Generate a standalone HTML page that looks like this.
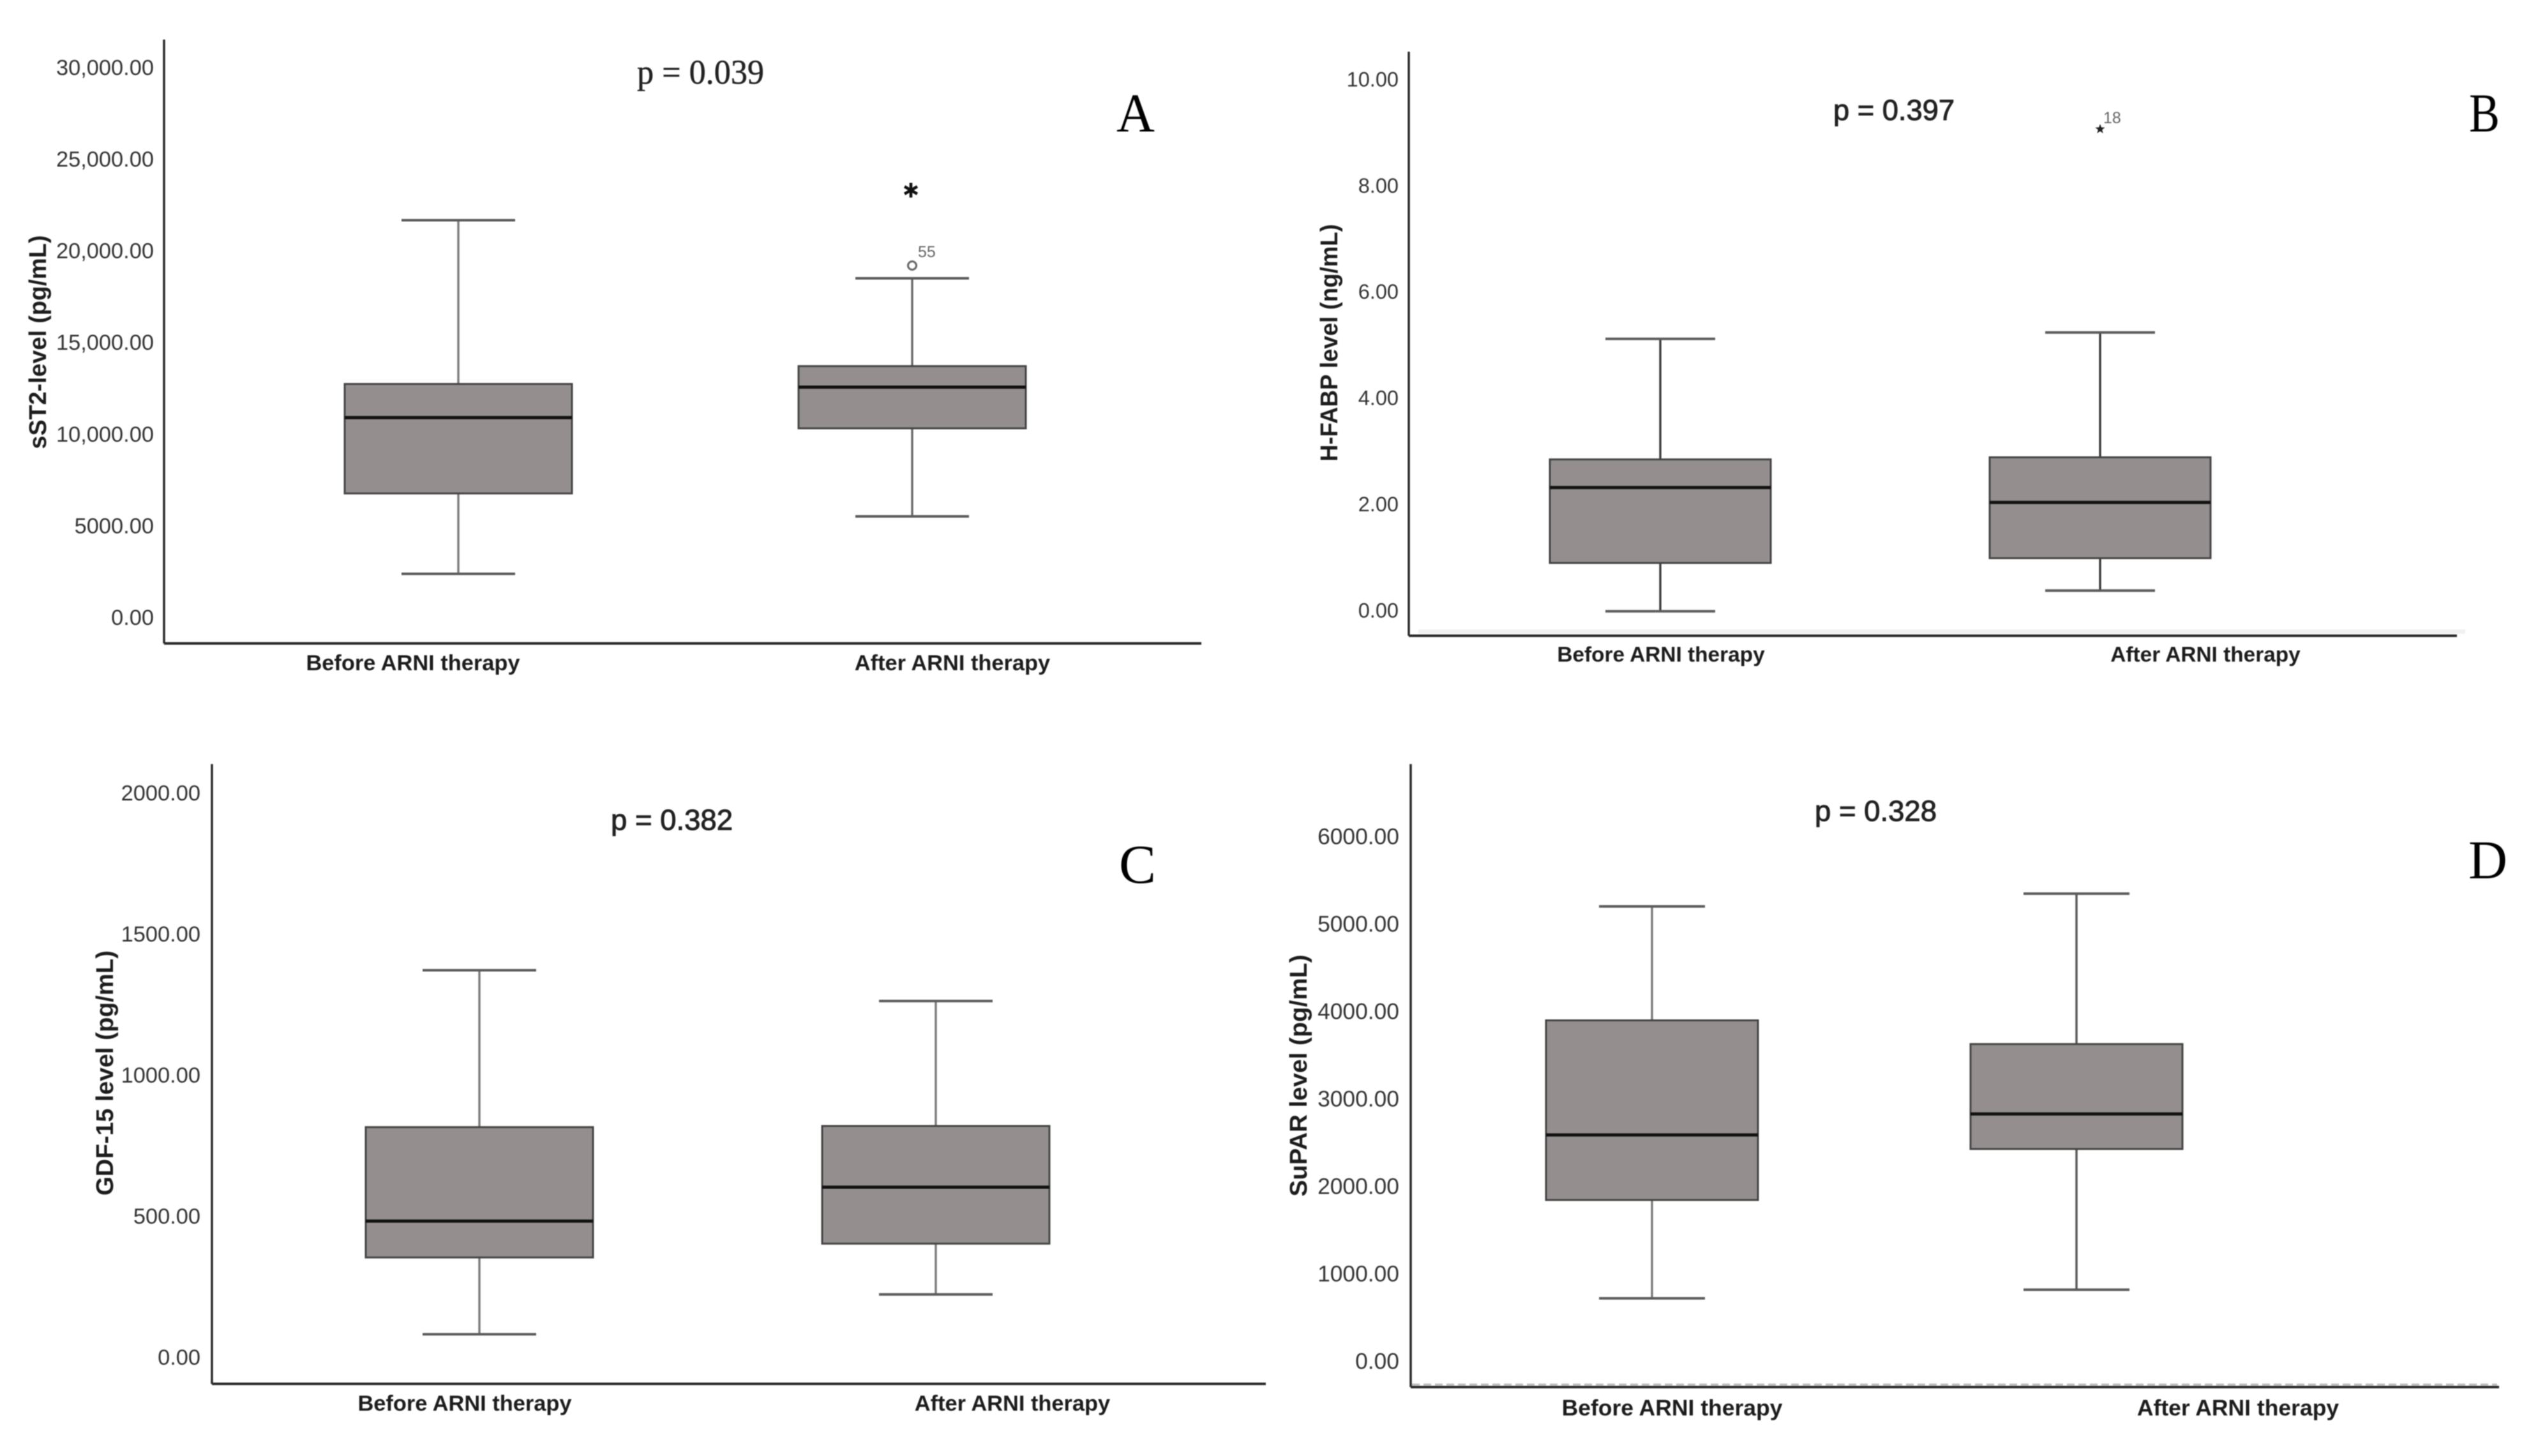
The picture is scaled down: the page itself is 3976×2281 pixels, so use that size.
<!DOCTYPE html>
<html lang="en">
<head>
<meta charset="utf-8">
<title>Biomarker levels before and after ARNI therapy</title>
<style>
html,body{margin:0;padding:0;background:#fff;width:3976px;height:2281px;overflow:hidden}
svg{display:block;filter:blur(0.9px)}
text{font-family:"Liberation Sans",sans-serif}
.tick{font-size:34.4px;fill:#333;text-anchor:end}
.cat{font-weight:700;fill:#1c1c1c;text-anchor:middle}
.ytitle{font-weight:700;font-size:38px;fill:#1c1c1c;text-anchor:middle}
.pserif{font-family:"Liberation Serif",serif;font-size:54px;fill:#222;stroke:#222;stroke-width:.5px}
.psans{font-size:45px;fill:#222;stroke:#222;stroke-width:1px}
.letter{font-family:"Liberation Serif",serif;font-size:86px;fill:#000}
.note{font-size:25px;fill:#666}
</style>
</head>
<body>
<svg id="figure" xmlns="http://www.w3.org/2000/svg" width="3976" height="2281" viewBox="0 0 3976 2281">
  <rect x="0" y="0" width="3976" height="2281" fill="#fff"/>

  <g id="panel-a">
    <text class="ytitle" transform="translate(72,536) rotate(-90)" textLength="335" lengthAdjust="spacingAndGlyphs">sST2-level (pg/mL)</text>
    <text class="pserif" x="998" y="131" textLength="199" lengthAdjust="spacingAndGlyphs">p = 0.039</text>
    <text class="letter" x="1749" y="206" textLength="60" lengthAdjust="spacingAndGlyphs">A</text>
  </g>
  <g id="panel-b">
    <rect x="2222" y="986" width="1640" height="7" fill="#f1f1f1"/>
    <text class="ytitle" transform="translate(2095,537) rotate(-90)" textLength="372" lengthAdjust="spacingAndGlyphs">H-FABP level (ng/mL)</text>
    <text class="psans" x="2872" y="188" textLength="190" lengthAdjust="spacingAndGlyphs">p = 0.397</text>
    <text class="letter" x="3868" y="206" textLength="48" lengthAdjust="spacingAndGlyphs">B</text>
  </g>
  <g id="panel-c">
    <text class="ytitle" transform="translate(177,1681) rotate(-90)" textLength="384" lengthAdjust="spacingAndGlyphs">GDF-15 level (pg/mL)</text>
    <text class="psans" x="957" y="1300" textLength="191" lengthAdjust="spacingAndGlyphs">p = 0.382</text>
    <text class="letter" x="1753" y="1383" textLength="58" lengthAdjust="spacingAndGlyphs">C</text>
  </g>
  <g id="panel-d">
    <line x1="2212" y1="2169" x2="3912" y2="2169" stroke="#bbb" stroke-width="3" stroke-dasharray="12 6"/>
    <text class="ytitle" transform="translate(2047,1685) rotate(-90)" textLength="379" lengthAdjust="spacingAndGlyphs">SuPAR level (pg/mL)</text>
    <text class="psans" x="2843" y="1286" textLength="191" lengthAdjust="spacingAndGlyphs">p = 0.328</text>
    <text class="letter" x="3867" y="1376" textLength="61" lengthAdjust="spacingAndGlyphs">D</text>
  </g>
</svg>

<script>
const categories = ['Before ARNI therapy', 'After ARNI therapy'];

const panelATicks = [0, 5000, 10000, 15000, 20000, 25000, 30000];
const panelATickLabels = ['0.00', '5000.00', '10,000.00', '15,000.00', '20,000.00', '25,000.00', '30,000.00'];
const panelAWhiskerHigh = [21657, 18489];
const panelAQ3 = [12725, 13698];
const panelAMedian = [10888, 12552];
const panelAQ1 = [6755, 10306];
const panelAWhiskerLow = [2368, 5501];
const panelAOutliers = [19185];
const panelAOutlierIds = ['55'];
const panelAExtremes = [23294];
const panelAExtremeIds = [''];

const panelBTicks = [0, 2, 4, 6, 8, 10];
const panelBTickLabels = ['0.00', '2.00', '4.00', '6.00', '8.00', '10.00'];
const panelBWhiskerHigh = [5.11, 5.23];
const panelBQ3 = [2.84, 2.88];
const panelBMedian = [2.31, 2.03];
const panelBQ1 = [0.89, 0.98];
const panelBWhiskerLow = [-0.02, 0.37];
const panelBOutliers = [];
const panelBOutlierIds = [];
const panelBExtremes = [9.06];
const panelBExtremeIds = ['18'];

const panelCTicks = [0, 500, 1000, 1500, 2000];
const panelCTickLabels = ['0.00', '500.00', '1000.00', '1500.00', '2000.00'];
const panelCWhiskerHigh = [1371, 1262];
const panelCQ3 = [815, 819];
const panelCMedian = [482, 602];
const panelCQ1 = [353, 402];
const panelCWhiskerLow = [81, 222];

const panelDTicks = [0, 1000, 2000, 3000, 4000, 5000, 6000];
const panelDTickLabels = ['0.00', '1000.00', '2000.00', '3000.00', '4000.00', '5000.00', '6000.00'];
const panelDWhiskerHigh = [5197, 5343];
const panelDQ3 = [3894, 3623];
const panelDMedian = [2584, 2824];
const panelDQ1 = [1840, 2423];
const panelDWhiskerLow = [715, 814];

const SVG_NS = 'http://www.w3.org/2000/svg';

function shape(parent, tag, attrs) {
  const el = document.createElementNS(SVG_NS, tag);
  Object.keys(attrs).forEach(function (k) { el.setAttribute(k, attrs[k]); });
  parent.appendChild(el);
  return el;
}

function drawPanel(p) {
  const root = document.getElementById(p.id);
  const yPos = function (v) { return p.zeroY - v * p.pxPerUnit; };
  const xPos = function (i) { return p.firstX + i * p.stepX; };

  // axes
  const yAxis = shape(root, 'line', { x1: p.axisX, x2: p.axisX, y1: p.axisTop, y2: p.axisBottom, stroke: '#2a2a2a', 'stroke-width': 3.5 });
  
  
  const xAxis = shape(root, 'line', { x1: p.axisX, x2: p.axisRight, y1: p.axisBottom, y2: p.axisBottom, stroke: '#2a2a2a', 'stroke-width': 4 });
  
  

  // tick labels
  p.ticks.forEach(function (t, i) {
    const label = shape(root, 'text', { class: 'tick', x: p.tickRight, y: yPos(t) + p.tickSize * 0.35, style: 'font-size:' + p.tickSize + 'px' });
    label.textContent = p.tickLabels[i];
    
    
  });

  // category labels
  categories.forEach(function (c, i) {
    const label = shape(root, 'text', { class: 'cat', x: p.catX[i], y: p.catY + p.catSize * 0.35, style: 'font-size:' + p.catSize + 'px' });
    label.textContent = c;
    
    
  });

  // box plots
  categories.forEach(function (c, i) {
    const cx = xPos(i);
    const g = shape(root, 'g', {});
    
    

    const stem = shape(g, 'line', { x1: cx, x2: cx, y1: yPos(p.high[i]), y2: yPos(p.low[i]), stroke: p.stemColors[i], 'stroke-width': 3.4 });
    
    

    const capHigh = shape(g, 'line', { x1: cx - p.capHalf, x2: cx + p.capHalf, y1: yPos(p.high[i]), y2: yPos(p.high[i]), stroke: '#5c5c5c', 'stroke-width': 4 });
    
    

    const capLow = shape(g, 'line', { x1: cx - p.capHalf, x2: cx + p.capHalf, y1: yPos(p.low[i]), y2: yPos(p.low[i]), stroke: '#5c5c5c', 'stroke-width': 4 });
    
    

    const box = shape(g, 'rect', { x: cx - p.boxHalf, y: yPos(p.q3[i]), width: p.boxHalf * 2, height: yPos(p.q1[i]) - yPos(p.q3[i]), fill: '#948f8e', stroke: '#444', 'stroke-width': 3 });
    
    

    const med = shape(g, 'line', { x1: cx - p.boxHalf, x2: cx + p.boxHalf, y1: yPos(p.median[i]), y2: yPos(p.median[i]), stroke: '#111', 'stroke-width': 5 });
    
    
  });

  // outliers belong to the "After" group
  const afterX = xPos(1);
  (p.outliers || []).forEach(function (v, i) {
    const c = shape(root, 'circle', { cx: afterX, cy: yPos(v), r: 6.5, fill: '#fff', stroke: '#666', 'stroke-width': 3 });
    
    
    const t = shape(root, 'text', { class: 'note', x: afterX + 9, y: yPos(v) - 13 });
    t.textContent = p.outlierIds[i];
    
    
  });

  // extremes: six-armed asterisk (A) or small star (B)
  (p.extremes || []).forEach(function (v, i) {
    const cy = yPos(v);
    if (p.extremeStyle === 'asterisk') {
      const g = shape(root, 'g', {});
      
      
      [90, 30, 150].forEach(function (deg) {
        const a = deg * Math.PI / 180;
        const dx = Math.cos(a) * 11.5;
        const dy = Math.sin(a) * 11.5;
        const arm = shape(g, 'line', { x1: afterX - 2 - dx, y1: cy - dy, x2: afterX - 2 + dx, y2: cy + dy, stroke: '#111', 'stroke-width': 4.6 });
        
        
      });
    } else {
      const pts = [];
      for (let k = 0; k < 10; k++) {
        const r = k % 2 === 0 ? 8 : 3.4;
        const a = -Math.PI / 2 + k * Math.PI / 5;
        pts.push((afterX + r * Math.cos(a)).toFixed(1) + ',' + (cy + r * Math.sin(a)).toFixed(1));
      }
      const star = shape(root, 'polygon', { points: pts.join(' '), fill: '#222' });
      
      
    }
    if (p.extremeIds[i]) {
      const t = shape(root, 'text', { class: 'note', x: afterX + 5, y: cy - 9 });
      t.textContent = p.extremeIds[i];
      
      
    }
  });
}

drawPanel({
  id: 'panel-a', ticks: panelATicks, tickLabels: panelATickLabels,
  high: panelAWhiskerHigh, q3: panelAQ3, median: panelAMedian, q1: panelAQ1, low: panelAWhiskerLow,
  outliers: panelAOutliers, outlierIds: panelAOutlierIds, extremes: panelAExtremes, extremeIds: panelAExtremeIds, extremeStyle: 'asterisk',
  zeroY: 967, pxPerUnit: 0.02872, firstX: 718, stepX: 711, boxHalf: 178, capHalf: 89, stemColors: ['#7a7a7a', '#6a6a6a'],
  axisX: 257, axisTop: 62, axisBottom: 1008, axisRight: 1882,
  tickRight: 241, tickSize: 34.4, catX: [647, 1492], catY: 1038, catSize: 34.4
});

drawPanel({
  id: 'panel-b', ticks: panelBTicks, tickLabels: panelBTickLabels,
  high: panelBWhiskerHigh, q3: panelBQ3, median: panelBMedian, q1: panelBQ1, low: panelBWhiskerLow,
  outliers: panelBOutliers, outlierIds: panelBOutlierIds, extremes: panelBExtremes, extremeIds: panelBExtremeIds, extremeStyle: 'star',
  zeroY: 956, pxPerUnit: 83.2, firstX: 2601, stepX: 689, boxHalf: 173, capHalf: 86, stemColors: ['#3a3a3a', '#3a3a3a'],
  axisX: 2207, axisTop: 81, axisBottom: 996, axisRight: 3849,
  tickRight: 2191, tickSize: 32.5, catX: [2602, 3455], catY: 1025, catSize: 33.4
});

drawPanel({
  id: 'panel-c', ticks: panelCTicks, tickLabels: panelCTickLabels,
  high: panelCWhiskerHigh, q3: panelCQ3, median: panelCMedian, q1: panelCQ1, low: panelCWhiskerLow,
  zeroY: 2126, pxPerUnit: 0.442, firstX: 751, stepX: 715, boxHalf: 178, capHalf: 89, stemColors: ['#7a7a7a', '#7a7a7a'],
  axisX: 332, axisTop: 1197, axisBottom: 2168, axisRight: 1983,
  tickRight: 314, tickSize: 34.4, catX: [728, 1586], catY: 2198, catSize: 34.4
});

drawPanel({
  id: 'panel-d', ticks: panelDTicks, tickLabels: panelDTickLabels,
  high: panelDWhiskerHigh, q3: panelDQ3, median: panelDMedian, q1: panelDQ1, low: panelDWhiskerLow,
  zeroY: 2132, pxPerUnit: 0.137, firstX: 2588, stepX: 665, boxHalf: 166, capHalf: 83, stemColors: ['#7a7a7a', '#555'],
  axisX: 2210, axisTop: 1197, axisBottom: 2173, axisRight: 3915,
  tickRight: 2192, tickSize: 35.4, catX: [2619.5, 3506], catY: 2205, catSize: 35.5
});
</script>
</body>
</html>
